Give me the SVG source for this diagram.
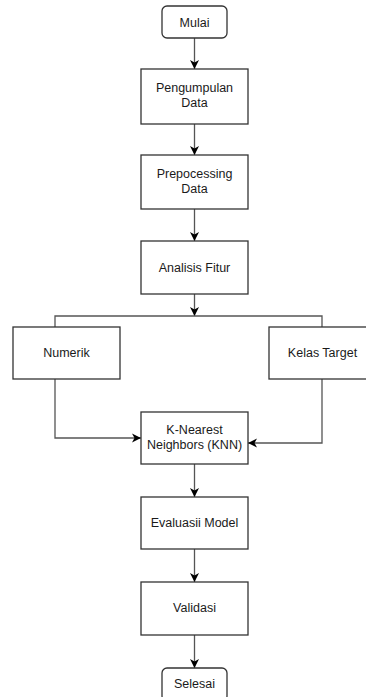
<svg xmlns="http://www.w3.org/2000/svg" width="366" height="697" viewBox="0 0 366 697">
<style>
.box{fill:#fff;stroke:#333;stroke-width:1.3}
.t{font-family:"Liberation Sans",Arial,sans-serif;font-size:12.5px;fill:#1a1a1a;text-anchor:middle}
.c{fill:none;stroke:#555;stroke-width:1.3}
</style>
<defs>
<marker id="a" markerUnits="userSpaceOnUse" markerWidth="12" markerHeight="12" refX="9" refY="5" orient="auto">
<path d="M0,0.5 L9,5 L0,9.5 L2.5,5 z" fill="#000"/>
</marker>
</defs>
<rect width="366" height="697" fill="#fff"/>
<g id="connectors">
<line class="c" x1="194.5" y1="38" x2="194.5" y2="69" marker-end="url(#a)"/>
<line class="c" x1="194.5" y1="124" x2="194.5" y2="155" marker-end="url(#a)"/>
<line class="c" x1="194.5" y1="209" x2="194.5" y2="241" marker-end="url(#a)"/>
<line class="c" x1="194.5" y1="294" x2="194.5" y2="316" marker-end="url(#a)"/>
<path class="c" d="M55,327 V316 H322 V327"/>
<path class="c" d="M55,379 V438 H141" marker-end="url(#a)"/>
<path class="c" d="M322,379 V443 H248" marker-end="url(#a)"/>
<line class="c" x1="194.5" y1="464" x2="194.5" y2="497" marker-end="url(#a)"/>
<line class="c" x1="194.5" y1="549" x2="194.5" y2="582" marker-end="url(#a)"/>
<line class="c" x1="194.5" y1="635" x2="194.5" y2="668" marker-end="url(#a)"/>
</g>
<g id="mulai"><rect class="box" x="162" y="6" width="65" height="32" rx="5"/><text class="t" x="194.5" y="26.5">Mulai</text></g>
<g id="pengumpulan"><rect class="box" x="141" y="69" width="107" height="55"/><text class="t" x="194.5" y="92">Pengumpulan</text><text class="t" x="194.5" y="106.5">Data</text></g>
<g id="prepocessing"><rect class="box" x="141" y="155" width="107" height="54"/><text class="t" x="194.5" y="178">Prepocessing</text><text class="t" x="194.5" y="192.5">Data</text></g>
<g id="analisis"><rect class="box" x="141" y="241" width="107" height="53"/><text class="t" x="194.5" y="272">Analisis Fitur</text></g>
<g id="numerik"><rect class="box" x="13" y="327" width="107" height="52"/><text class="t" x="66.5" y="357">Numerik</text></g>
<g id="kelas"><rect class="box" x="269" y="327" width="107" height="52"/><text class="t" x="322.5" y="357">Kelas Target</text></g>
<g id="knn"><rect class="box" x="141" y="412" width="107" height="52"/><text class="t" x="194.5" y="434">K-Nearest</text><text class="t" x="194.5" y="448.5">Neighbors (KNN)</text></g>
<g id="evaluasi"><rect class="box" x="141" y="497" width="107" height="52"/><text class="t" x="194.5" y="527">Evaluasii Model</text></g>
<g id="validasi"><rect class="box" x="141" y="582" width="107" height="53"/><text class="t" x="194.5" y="612">Validasi</text></g>
<g id="selesai"><rect class="box" x="162" y="668" width="65" height="33" rx="5"/><text class="t" x="194.5" y="688">Selesai</text></g>
</svg>
